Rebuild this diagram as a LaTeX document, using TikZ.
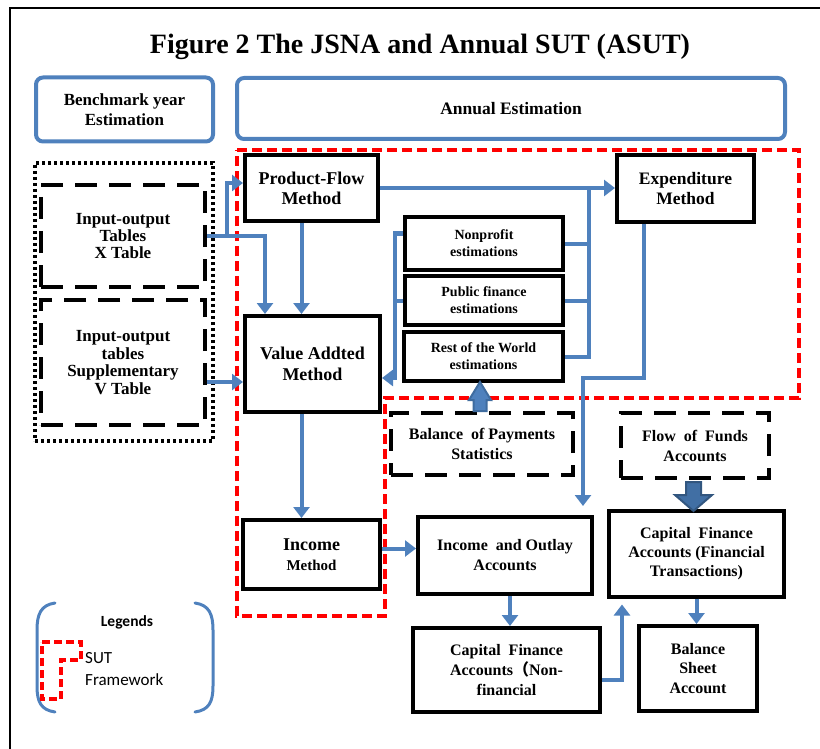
\documentclass[tikz,border=0pt]{standalone}
\usepackage{fontspec}
\setmainfont{Liberation Serif}
\newfontfamily\legfont{Carlito}
\newfontfamily\cjkfont{Noto Sans CJK SC}
\usetikzlibrary{arrows.meta,calc}

\definecolor{accblue}{HTML}{4F81BD}
\definecolor{deepblue}{HTML}{3F6C9F}
\definecolor{sutred}{HTML}{FF0000}

\newcommand\fz[2]{\fontsize{#1}{#2}\selectfont\bfseries}

\tikzset{
  box/.style={draw=black, line width=4pt, fill=white, align=center, inner sep=2pt},
  head/.style={draw=accblue, line width=4pt, rounded corners=7pt, align=center},
  srcbox/.style={draw=black, line width=4pt, dash pattern=on 22pt off 12pt, align=center},
  outerdot/.style={draw=black, line width=4pt, dash pattern=on 3pt off 3pt},
  sut/.style={draw=sutred, line width=4pt, dash pattern=on 10pt off 5pt},
  conn/.style={draw=accblue, line width=4pt},
  arr/.style={conn, -{Triangle[width=16pt,length=11pt]}},
  blockarr/.style={draw=deepblue, line width=2pt, fill=accblue, line join=miter},
  bracket/.style={draw=accblue, line width=3pt, line cap=round},
}

\begin{document}
\begin{tikzpicture}[x=1pt,y=-1pt]
\useasboundingbox (0,0) rectangle (820,749);

% page frame (top and left rules)
\draw[line width=1.5pt] (10,749) -- (10,8) -- (820,8);

% title
\node[font=\fz{28}{32}] (title) at (420,47) {Figure 2 The JSNA and Annual SUT (ASUT)};

% column headers
\node[head, minimum width=177pt, minimum height=64pt, font=\fz{17}{20}] (bench) at (124.5,109.5) {Benchmark year\\Estimation};
\node[head, minimum width=548pt, minimum height=61pt, font=\fz{17.5}{20}] (annual) at (511,108.5) {Annual Estimation};

% SUT framework outline
\draw[sut] (237,150) -- (799,150) -- (799,398) -- (385,398) -- (385,616) -- (237,616) -- cycle;

% benchmark input-output tables
\node[outerdot, minimum width=178pt, minimum height=278pt] (iogroup) at (124,302) {};
\node[srcbox, minimum width=164pt, minimum height=102pt, font=\fz{17}{17}] (xt) at (123,236) {Input-output\\Tables\\X Table};
\node[srcbox, minimum width=164pt, minimum height=125pt, font=\fz{17}{17.5}] (vt) at (123,362.5) {Input-output\\tables\\Supplementary\\V Table};

% estimation methods
\node[box, minimum width=133pt, minimum height=66pt, font=\fz{18}{20}] (pf) at (311.5,188) {Product-Flow\\Method};
\node[box, minimum width=135pt, minimum height=96pt, font=\fz{18}{21}] (va) at (312.5,364) {Value Addted\\Method};
\node[box, minimum width=137pt, minimum height=69pt, font=\fz{18}{20}] (in) at (311.5,554.5) {Income\\{\fz{15}{20}Method}};
\node[box, minimum width=137pt, minimum height=67pt, font=\fz{17.5}{20}] (ex) at (685.5,188.5) {Expenditure\\Method};

% supporting estimations
\node[box, minimum width=158pt, minimum height=53pt, font=\fz{14}{17}] (np) at (484,243.5) {Nonprofit\\estimations};
\node[box, minimum width=158pt, minimum height=49pt, font=\fz{14}{17}] (pb) at (484,300.5) {Public finance\\estimations};
\node[box, minimum width=159pt, minimum height=49pt, font=\fz{14}{17}] (rw) at (483.5,356.5) {Rest of the World\\estimations};

% external statistics
\node[srcbox, minimum width=182pt, minimum height=62pt, font=\fz{16}{20}] (bp) at (482,444) {Balance\ \ of Payments\\Statistics};
\node[srcbox, minimum width=148pt, minimum height=65pt, font=\fz{16}{20}] (fof) at (695,445.5) {Flow\ \ of\ \ Funds\\Accounts};

% institutional accounts
\node[box, minimum width=174pt, minimum height=77pt, font=\fz{16}{20}] (io) at (505,555.5) {Income\ \ and Outlay\\Accounts};
\node[box, minimum width=175pt, minimum height=86pt, font=\fz{16}{19}] (cf) at (696.5,553.5) {Capital\ \ Finance\\Accounts\ (Financial\\Transactions)};
\node[box, minimum width=187pt, minimum height=84pt, font=\fz{16}{20}] (cn) at (506.5,670) {Capital\ \ Finance\\Accounts{\cjkfont （}Non-\\financial};
\node[box, minimum width=118pt, minimum height=85pt, font=\fz{16}{19.5}] (bs) at (698,668.5) {Balance\\Sheet\\Account};

% junctions
\coordinate (jr) at (589,188);
\coordinate (jl) at (395,378);
\coordinate (je) at (583,378);

% connectors
\draw[arr] (xt.east) -| (227,183) -- (227,183 -| pf.west);
\draw[arr] (xt.east) -| ([xshift=22pt]va.north west);
\draw[arr] ([xshift=-10pt]pf.south) -- ([xshift=-10pt]pf.south |- va.north);
\draw[arr] ([yshift=-19.5pt]vt.east) -- ([yshift=-19.5pt]vt.east -| va.west);
\draw[arr] (pf.east) -- (pf.east -| ex.west);
\draw[conn] (rw.east) -| (jr);
\draw[conn] (np.east) -- (np.east -| jr);
\draw[conn] (pb.east) -- (pb.east -| jr);
\draw[arr] ([yshift=10pt]np.west) -| (jl) -- (jl -| va.east);
\draw[conn] (pb.west) -- (pb.west -| jl);
\draw[arr, shorten >=9pt] ([xshift=-42pt]ex.south) |- (je) -- (je |- io.north);
\draw[arr] ([xshift=-11pt]va.south) -- ([xshift=-11pt]va.south |- in.north);
\draw[arr] ([yshift=6pt]in.east) -- ([yshift=6pt]in.east -| io.west);
\draw[arr] ([xshift=5pt]io.south) -- ([xshift=5pt]io.south |- cn.north);
\draw[arr, shorten >=6pt] ([yshift=-10pt]cn.east) -| ([xshift=15pt]cf.south west);
\draw[arr] (cf.south) -- (cf.south |- bs.north);

% block arrows from external statistics
\draw[blockarr, shift={([xshift=-2pt]bp.north)}]
  (0,-29) -- (11,-11) -- (6.5,-11) -- (6.5,0) -- (-6.5,0) -- (-6.5,-11) -- (-11,-11) -- cycle;
\draw[blockarr, fill=deepblue!85!accblue, draw=deepblue!80!black, shift={([xshift=-1.5pt]fof.south)}]
  (0,31) -- (18.5,15) -- (7.5,15) -- (7.5,2) -- (-7.5,2) -- (-7.5,15) -- (-18.5,15) -- cycle;

% legend
\draw[bracket] (55,603) .. controls (41,605) and (37,614) .. (37,630) -- (37,686) .. controls (37,702) and (41,710) .. (55,712);
\draw[bracket] (195,603) .. controls (209,605) and (213,614) .. (213,630) -- (213,686) .. controls (213,702) and (209,710) .. (195,712);
\node[font=\legfont\fontsize{15.5}{18}\selectfont\bfseries] (legtitle) at (127,622) {Legends};
\draw[draw=sutred, line width=3.5pt, dash pattern=on 8pt off 4pt]
  (42,642) -- (81,642) -- (81,660) -- (61,660) -- (61,699) -- (42,699) -- cycle;
\node[font=\legfont\fontsize{17}{22}\selectfont, align=left, anchor=west, inner sep=0pt] (legsut) at (85,669) {SUT\\Framework};
\end{tikzpicture}
\end{document}
